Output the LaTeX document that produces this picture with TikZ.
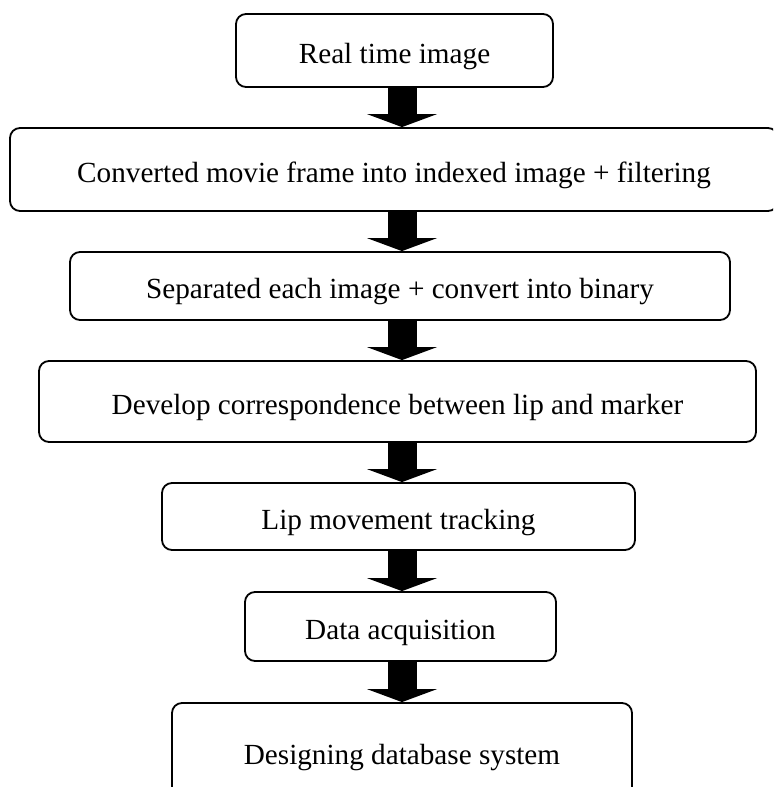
\documentclass[tikz,border=0pt]{standalone}
\usepackage{fontspec}
\setmainfont{Liberation Serif}
\usepackage{tikz}
\usetikzlibrary{arrows.meta,positioning,calc}

\begin{document}
\begin{tikzpicture}[x=0.5pt,y=-0.5pt,
    bx/.style={draw,line width=0.9pt,rounded corners=5pt,inner sep=0pt,
      text height=12.5pt,text depth=0pt,font=\fontsize{14.6}{17}\selectfont},
    ar/.style={-{Triangle[length=6.5pt,width=35pt,line width=0pt]},line width=14.5pt}
]
\useasboundingbox (0,0) rectangle (773,787);
\clip (0,0) rectangle (773,787);
\coordinate (ax) at (402,0);
\node[bx,minimum width=158.5pt,minimum height=36.5pt] (rt) at (394.5,50.5) {Real time image};
\node[bx,minimum width=384pt,minimum height=41.5pt] (conv) at (394,169.5) {Converted movie frame into indexed image + filtering};
\node[bx,minimum width=330pt,minimum height=34pt] (sep) at (400,286) {Separated each image + convert into binary};
\node[bx,minimum width=358.5pt,minimum height=40.5pt] (corr) at (397.5,401.5) {Develop correspondence between lip and marker};
\node[bx,minimum width=236.5pt,minimum height=33.5pt] (lip) at (398.5,516.5) {Lip movement tracking};
\node[bx,minimum width=155.5pt,minimum height=34.5pt] (acq) at (400.5,626.5) {Data acquisition};
\node[bx,minimum width=230pt,minimum height=49pt] (db) at (402,752) {Designing database system};
% block arrows between the stages
\draw[ar] (rt.south -| ax) -- (conv.north -| ax);
\draw[ar] (conv.south -| ax) -- (sep.north -| ax);
\draw[ar] (sep.south -| ax) -- (corr.north -| ax);
\draw[ar] (corr.south -| ax) -- (lip.north -| ax);
\draw[ar] (lip.south -| ax) -- (acq.north -| ax);
\draw[ar] (acq.south -| ax) -- (db.north -| ax);
\end{tikzpicture}
\end{document}
